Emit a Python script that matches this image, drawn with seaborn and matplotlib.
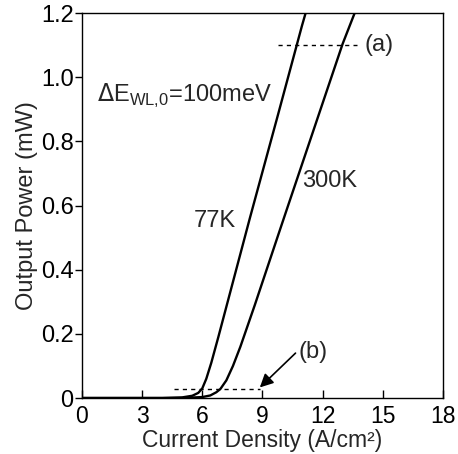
import matplotlib
matplotlib.use("Agg")
import matplotlib.pyplot as plt
import seaborn as sns
import pandas as pd

# Data
j_77k = [0.0, 4.0, 5.0, 5.5, 5.8, 6.0, 6.2, 6.45, 6.8, 7.08, 8.37, 9.72, 10.97, 11.2]
p_77k = [0.0, 0.0, 0.002, 0.007, 0.016, 0.03, 0.06, 0.11, 0.19, 0.256, 0.56, 0.87, 1.16, 1.21]
j_300k = [0.0, 5.0, 6.0, 6.4, 6.7, 6.9, 7.2, 7.53, 7.9, 8.62, 9.77, 10.27, 13.0, 13.6, 13.8]
p_300k = [0.0, 0.0, 0.003, 0.008, 0.018, 0.028, 0.055, 0.1, 0.16, 0.29, 0.505, 0.598, 1.104, 1.2, 1.24]

ref_a_x = [9.77, 13.7]
ref_a_y = [1.1, 1.1]
ref_b_x = [4.6, 8.9]
ref_b_y = [0.028, 0.028]

x_ticks = [0, 3, 6, 9, 12, 15, 18]
y_ticks = [0, 0.2, 0.4, 0.6, 0.8, 1.0, 1.2]
y_tick_labels = ["0", "0.2", "0.4", "0.6", "0.8", "1.0", "1.2"]

sns.set_theme(style="ticks")
plt.rcParams['font.family'] = ['Liberation Sans', 'DejaVu Sans']

df = pd.concat([
    pd.DataFrame({"J": j_77k, "P": p_77k, "T": "77K"}),
    pd.DataFrame({"J": j_300k, "P": p_300k, "T": "300K"}),
])

fig = plt.figure(figsize=(4.58, 4.54), dpi=100)
ax = fig.add_axes([0.179, 0.1233, 0.788, 0.848])

sns.lineplot(data=df, x="J", y="P", units="T", estimator=None, sort=False,
             color="black", linewidth=1.7, ax=ax, legend=False)

ax.plot(ref_a_x, ref_a_y, color="black", linestyle=(0, (3, 3)), linewidth=1.0)
ax.plot(ref_b_x, ref_b_y, color="black", linestyle=(0, (3, 3)), linewidth=1.0)

fs = 17
ax.text(14.1, 1.1, "(a)", fontsize=fs, ha="left", va="center")
ax.text(10.8, 0.143, "(b)", fontsize=fs, ha="left", va="center")
ax.annotate("", xy=(8.87, 0.033), xytext=(10.65, 0.14),
            arrowprops=dict(arrowstyle="-|>", color="black", lw=1.2,
                            mutation_scale=20, shrinkA=0, shrinkB=0))
ax.text(0.75, 0.94, r"$\Delta$E$_{\mathregular{WL{,}0}}$=100meV", fontsize=fs,
        ha="left", va="center")
ax.text(7.7, 0.552, "77K", fontsize=fs, ha="right", va="center")
ax.text(11.0, 0.676, "300K", fontsize=fs, ha="left", va="center")

ax.set_xlim(0, 18)
ax.set_ylim(0, 1.2)
ax.set_xticks(x_ticks)
ax.set_xticklabels([str(t) for t in x_ticks])
ax.set_yticks(y_ticks)
ax.set_yticklabels(y_tick_labels)
ax.tick_params(axis="x", direction="in", length=6, width=1, labelsize=16.5, pad=5, colors="black")
ax.tick_params(axis="y", direction="out", length=5, width=1, labelsize=fs, pad=1, colors="black")
ax.set_xlabel("Current Density (A/cm²)", fontsize=16.5, labelpad=1)
ax.set_ylabel("Output Power (mW)", fontsize=fs, labelpad=2)
for s in ax.spines.values():
    s.set_color("black")
    s.set_linewidth(1.0)

fig.savefig("out.png", dpi=100, facecolor="white")
